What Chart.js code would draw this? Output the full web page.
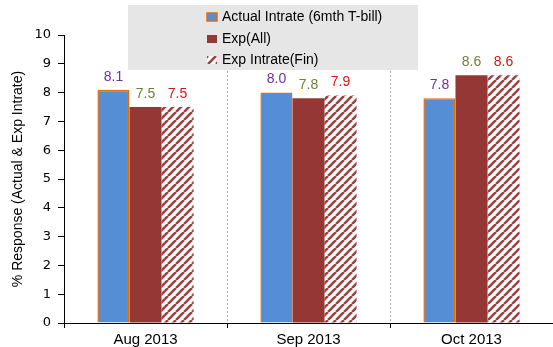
<!DOCTYPE html>
<html>
<head>
<meta charset="utf-8">
<script src="https://cdn.jsdelivr.net/npm/chart.js@4.4.0/dist/chart.umd.min.js"></script>
<style>
  html, body { margin: 0; padding: 0; background: #fff; overflow: hidden; }
  #wrap { width: 553px; height: 347px; position: relative; }
</style>
</head>
<body>
<div id="wrap"><canvas id="rates"></canvas></div>
<script>
// données
const months = ['Aug 2013', 'Sep 2013', 'Oct 2013'];
const actual_rate = [8.1, 8.0, 7.8];
const exp_all = [7.5, 7.8, 8.6];
const exp_fin = [7.5, 7.9, 8.6];
const y_ticks = [0, 1, 2, 3, 4, 5, 6, 7, 8, 9, 10];

const label_colors = ['#7030A0', '#6B7F3A', '#D01818'];

// motif hachuré pour Exp Intrate(Fin)
function makeHatch() {
    const c = document.createElement('canvas');
    c.width = 8; c.height = 8;
    const g = c.getContext('2d');
    g.fillStyle = '#fff';
    g.fillRect(0, 0, 8, 8);
    g.strokeStyle = '#A5403E';
    g.lineWidth = 2.6;
    g.beginPath();
    for (let k = -8; k <= 16; k += 8) {
        g.moveTo(k, 8);
        g.lineTo(k + 8, 0);
    }
    g.stroke();
    return g.createPattern(c, 'repeat');
}
const hatch = makeHatch();

// lignes pointillées verticales entre les mois
const catLines = {
    id: 'catLines',
    beforeDatasetsDraw(chart) {
        const ctx = chart.ctx;
        const xs = chart.scales.x;
        const area = chart.chartArea;
        ctx.save();
        ctx.strokeStyle = '#A8A8A8';
        ctx.lineWidth = 1;
        ctx.setLineDash([2, 2]);
        for (let i = 1; i < months.length; i++) {
            const x = Math.round((xs.getPixelForValue(i - 1) + xs.getPixelForValue(i)) / 2) + 0.5;
            ctx.beginPath();
            ctx.moveTo(x, area.top);
            ctx.lineTo(x, area.bottom);
            ctx.stroke();
        }
        ctx.restore();
    }
};

// boîte de légende grise posée sur le graphique
const legendBox = {
    id: 'legendBox',
    beforeDatasetsDraw(chart) {
        const ctx = chart.ctx;
        ctx.save();
        ctx.fillStyle = '#E6E6E6';
        ctx.fillRect(128, 5, 290, 65);
        const rows = [17, 39, 60];
        ctx.font = '14px "Liberation Sans", Arial, sans-serif';
        ctx.textBaseline = 'middle';
        chart.data.datasets.forEach((ds, i) => {
            const y = rows[i];
            ctx.fillStyle = ds.backgroundColor;
            ctx.fillRect(207, y - 4, 10, 8);
            if (i === 0) {
                ctx.strokeStyle = ds.borderColor;
                ctx.lineWidth = 1.5;
                ctx.strokeRect(207, y - 4, 10, 8);
            }
            ctx.fillStyle = '#000';
            ctx.fillText(ds.label, 222, y);
        });
        ctx.restore();
    }
};

// étiquettes de valeurs au-dessus des barres
const barLabels = {
    id: 'barLabels',
    afterDatasetsDraw(chart) {
        const ctx = chart.ctx;
        ctx.save();
        ctx.font = '14px "Liberation Sans", Arial, sans-serif';
        ctx.textAlign = 'center';
        ctx.textBaseline = 'bottom';
        chart.data.datasets.forEach((ds, i) => {
            const meta = chart.getDatasetMeta(i);
            ctx.fillStyle = label_colors[i];
            meta.data.forEach((bar, j) => {
                ctx.fillText(ds.data[j].toFixed(1), bar.x, bar.y - 6);
            });
        });
        ctx.restore();
    }
};

const ctx_rates = document.getElementById('rates').getContext('2d');

new Chart(ctx_rates, {
    type: 'bar',
    data: {
        labels: months,
        datasets: [{
            label: 'Actual Intrate (6mth T-bill)',
            data: actual_rate,
            backgroundColor: '#558ED5',
            borderColor: '#E46C0A',
            borderWidth: 1.5,
            categoryPercentage: 0.59,
            barPercentage: 1.0
        }, {
            label: 'Exp(All)',
            data: exp_all,
            backgroundColor: '#953735',
            borderWidth: 0,
            categoryPercentage: 0.59,
            barPercentage: 1.0
        }, {
            label: 'Exp Intrate(Fin)',
            data: exp_fin,
            backgroundColor: hatch,
            borderWidth: 0,
            categoryPercentage: 0.59,
            barPercentage: 1.0
        }]
    },
    options: {
        responsive: true,
        maintainAspectRatio: false,
        animation: false,
        layout: { padding: { top: 35, right: 0, left: 0, bottom: 0 } },
        plugins: {
            legend: { display: false },
            tooltip: { enabled: false }
        },
        scales: {
            x: {
                grid: {
                    offset: true,
                    drawOnChartArea: false,
                    tickColor: '#000',
                    tickLength: 5
                },
                border: { color: '#000', width: 1 },
                ticks: {
                    color: '#000',
                    font: { family: '"Liberation Sans", Arial, sans-serif', size: 15 },
                    padding: 3
                },
                afterFit: s => { s.height = 24; }
            },
            y: {
                min: 0,
                max: 10,
                afterBuildTicks: s => { s.ticks = y_ticks.map(v => ({ value: v })); },
                grid: { drawOnChartArea: false, tickColor: '#000', tickLength: 6 },
                border: { color: '#000', width: 1 },
                ticks: {
                    color: '#000',
                    font: { family: '"DejaVu Sans", Verdana, sans-serif', size: 13 },
                    padding: 7
                },
                title: {
                    display: true,
                    text: '% Response (Actual & Exp Intrate)',
                    color: '#000',
                    font: { family: '"Liberation Sans Narrow", "Liberation Sans", Arial, sans-serif', size: 14 },
                    padding: { top: 10, bottom: 0 }
                },
                afterFit: s => { s.width = 64; }
            }
        }
    },
    plugins: [catLines, legendBox, barLabels]
});
</script>
</body>
</html>
